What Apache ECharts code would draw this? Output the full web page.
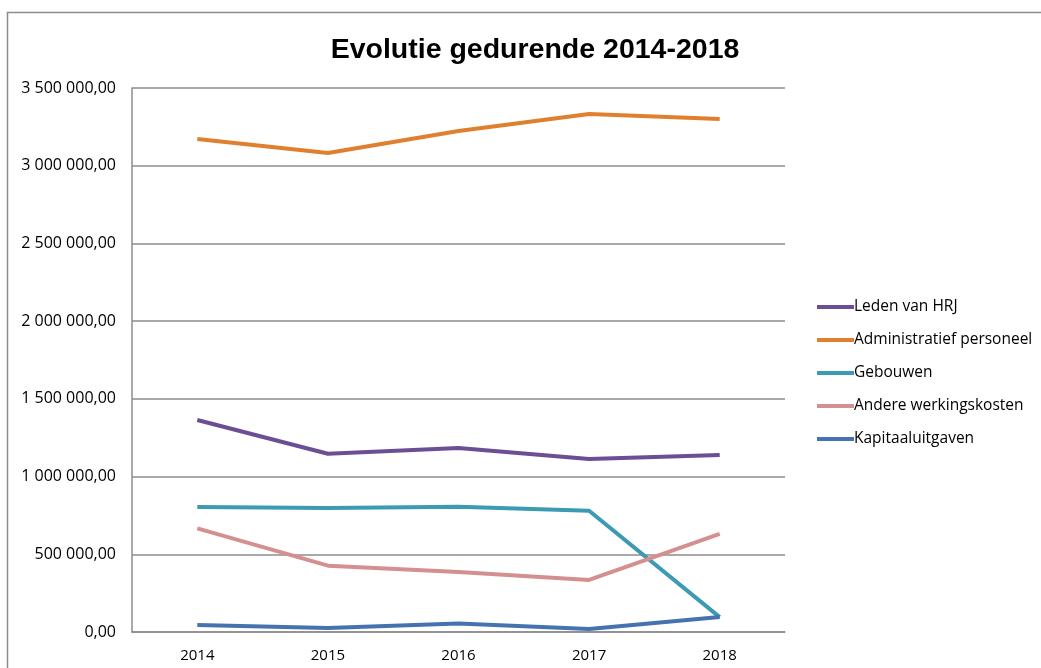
<!DOCTYPE html>
<html>
<head>
<meta charset="utf-8">
<script src="https://cdn.jsdelivr.net/npm/echarts@6/dist/echarts.min.js"></script>
<style>
  html, body { margin: 0; padding: 0; background: #fff; }
  #chart { width: 1041px; height: 668px; }
</style>
</head>
<body>
<div id="chart"></div>
<script>
// jaren
const years = ['2014', '2015', '2016', '2017', '2018']

// waarden
const ledenHRJ = [1364000, 1147000, 1184000, 1113000, 1139000]
const adminPersoneel = [3172000, 3082000, 3223000, 3333000, 3301000]
const gebouwen = [804000, 798000, 806000, 780000, 96000]
const andereKosten = [667000, 427000, 386000, 335000, 631000]
const kapitaal = [45000, 26000, 55000, 19000, 97000]

const seriesNames = ['Leden van HRJ', 'Administratief personeel', 'Gebouwen', 'Andere werkingskosten', 'Kapitaaluitgaven']
const seriesColors = ['#6b4e94', '#e0802f', '#3c9ab2', '#d49090', '#4573b0']

// 3500000 -> "3 500 000,00"
let fmt = (v) => {
  let s = String(Math.round(v))
  s = s.replace(/\B(?=(\d{3})+(?!\d))/g, ' ')
  return s + ',00'
}

let makeLine = (name, data, color) => {
  return {
    name: name,
    type: 'line',
    data: data,
    symbol: 'none',
    lineStyle: { width: 4, color: color },
    itemStyle: { color: color },
    emphasis: { disabled: true }
  }
}

let chartInstance = echarts.init(document.getElementById('chart'))
const option = {
  animation: false,
  textStyle: { fontFamily: 'Open Sans' },
  graphic: [
    {
      type: 'rect',
      shape: { x: 7.5, y: 12.5, width: 1100, height: 700 },
      style: { fill: 'none', stroke: '#8c8c8c', lineWidth: 1.5 },
      silent: true
    }
  ],
  title: {
    text: 'Evolutie gedurende 2014-2018',
    left: 530,
    textAlign: 'center',
    top: 31,
    textStyle: {
      fontFamily: 'Liberation Sans',
      fontWeight: 'bold',
      fontSize: 28.5,
      color: '#000'
    }
  },
  legend: {
    orient: 'vertical',
    left: 812,
    top: 293,
    icon: 'rect',
    itemWidth: 37,
    itemHeight: 4,
    itemGap: 15,
    data: seriesNames,
    textStyle: { fontSize: 15.5, color: '#000', lineHeight: 18, padding: [0, 0, 0, -5] }
  },
  grid: {
    left: 132,
    right: 256,
    top: 88,
    bottom: 36
  },
  xAxis: {
    type: 'category',
    data: years,
    axisLine: { lineStyle: { color: '#8c8c8c', width: 1.5 } },
    axisTick: { show: false },
    axisLabel: { fontSize: 15, color: '#000', margin: 16 }
  },
  yAxis: {
    type: 'value',
    min: 0,
    max: 3500000,
    interval: 500000,
    axisLine: { show: true, lineStyle: { color: '#8c8c8c', width: 1.5 } },
    axisTick: { show: false },
    splitLine: { lineStyle: { color: '#8c8c8c', width: 1.5 } },
    axisLabel: { fontSize: 16, color: '#000', margin: 16, formatter: fmt }
  },
  series: [
    makeLine(seriesNames[0], ledenHRJ, seriesColors[0]),
    makeLine(seriesNames[1], adminPersoneel, seriesColors[1]),
    makeLine(seriesNames[2], gebouwen, seriesColors[2]),
    makeLine(seriesNames[3], andereKosten, seriesColors[3]),
    makeLine(seriesNames[4], kapitaal, seriesColors[4])
  ]
}
chartInstance.setOption(option)
</script>
</body>
</html>
